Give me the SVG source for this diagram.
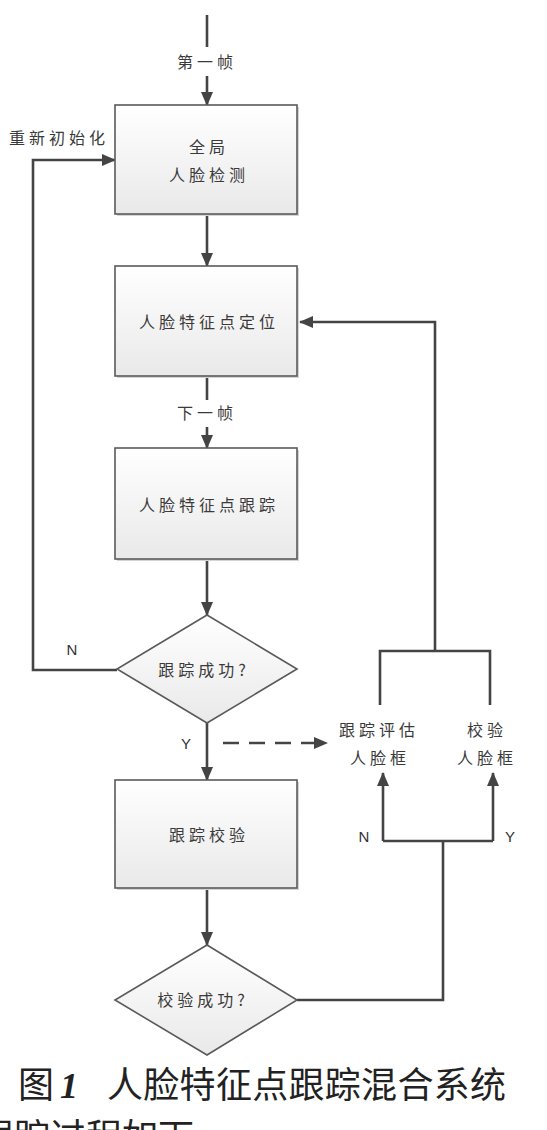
<svg xmlns="http://www.w3.org/2000/svg" width="547" height="1130" viewBox="0 0 547 1130">
<style>
.ln{fill:none;stroke:#444;stroke-width:2.6}
.dash{fill:none;stroke:#444;stroke-width:2.6;stroke-dasharray:16,10}
.box{fill:url(#g);stroke:#5a5a5a;stroke-width:1.6}
.sh{fill:#d4d4d4}
.t{font-family:"Noto Sans CJK SC","Noto Sans",sans-serif;font-size:16px;fill:#3a3a3a;letter-spacing:4px;text-anchor:middle}
.lc{font-family:"Noto Sans CJK SC","Noto Sans",sans-serif;font-size:16px;fill:#3a3a3a;letter-spacing:4px;text-anchor:middle}
.l{font-family:"Liberation Sans",Arial,sans-serif;font-size:15px;fill:#333;text-anchor:middle}
.cap{font-family:"Noto Sans CJK SC","Noto Sans",sans-serif;font-size:36px;fill:#222;font-weight:normal}
</style>
<defs>
<linearGradient id="g" x1="0" y1="0" x2="0" y2="1">
<stop offset="0" stop-color="#ffffff"/>
<stop offset="1" stop-color="#e9e9e9"/>
</linearGradient>
<marker id="a" markerWidth="14" markerHeight="12" refX="13" refY="6" orient="auto" markerUnits="userSpaceOnUse">
<path d="M0,0 L14,6 L0,12 Z" fill="#444"/>
</marker>
</defs>
<rect width="547" height="1130" fill="#ffffff"/>

<g id="connectors">
<path class="ln" d="M207,15 V47"/>
<path class="ln" d="M207,76 V105" marker-end="url(#a)"/>
<path class="ln" d="M207,214 V266" marker-end="url(#a)"/>
<path class="ln" d="M207,376 V400"/>
<path class="ln" d="M207,427 V448" marker-end="url(#a)"/>
<path class="ln" d="M207,559 V615" marker-end="url(#a)"/>
<path class="ln" d="M117,670 H33 V160 H115" marker-end="url(#a)"/>
<path class="ln" d="M207,723 V780" marker-end="url(#a)"/>
<path class="dash" d="M223,743 H327" marker-end="url(#a)"/>
<path class="ln" d="M207,888 V945" marker-end="url(#a)"/>
<path class="ln" d="M297,1000 H443 V841"/>
<path class="ln" d="M383,841 H493"/>
<path class="ln" d="M383,841 V773" marker-end="url(#a)"/>
<path class="ln" d="M493,841 V773" marker-end="url(#a)"/>
<path class="ln" d="M380,705 V651 H490 V705"/>
<path class="ln" d="M435,651 V322 H300" marker-end="url(#a)"/>
<text class="lc" x="207" y="68">第一帧</text>
<text class="lc" x="59" y="144">重新初始化</text>
<text class="lc" x="207" y="419">下一帧</text>
<text class="l" x="72" y="655">N</text>
<text class="l" x="186" y="749">Y</text>
<text class="l" x="364" y="842">N</text>
<text class="l" x="510" y="842">Y</text>
</g>

<g id="detect">
<rect class="sh" x="117" y="107" width="182" height="109"/>
<rect class="box" x="115" y="105" width="182" height="109"/>
<text class="t" x="209" y="153">全局</text>
<text class="t" x="209" y="181">人脸检测</text>
</g>

<g id="locate">
<rect class="sh" x="117" y="268" width="182" height="110"/>
<rect class="box" x="115" y="266" width="182" height="110"/>
<text class="t" x="209" y="328">人脸特征点定位</text>
</g>

<g id="track">
<rect class="sh" x="117" y="450" width="182" height="111"/>
<rect class="box" x="115" y="448" width="182" height="111"/>
<text class="t" x="209" y="511">人脸特征点跟踪</text>
</g>

<g id="decision1">
<path d="M207,615 L297,669 L207,723 L117,669 Z" class="box"/>
<text class="t" x="204" y="676">跟踪成功?</text>
</g>

<g id="verify">
<rect class="sh" x="117" y="782" width="182" height="108"/>
<rect class="box" x="115" y="780" width="182" height="108"/>
<text class="t" x="209" y="841">跟踪校验</text>
</g>

<g id="decision2">
<path d="M207,945 L297,1000 L207,1055 L115,1000 Z" class="box"/>
<text class="t" x="203" y="1006">校验成功?</text>
</g>

<g id="evalbox">
<text class="t" x="379" y="736">跟踪评估</text>
<text class="t" x="380" y="764">人脸框</text>
</g>

<g id="checkbox">
<text class="t" x="487" y="736">校验</text>
<text class="t" x="487" y="764">人脸框</text>
</g>

<g id="caption">
<text class="cap" x="18" y="1098">图</text>
<text x="60" y="1098" style="font-family:'Liberation Serif',serif;font-size:36px;font-style:italic;font-weight:bold;fill:#222">1</text>
<text class="cap" x="107" y="1098" style="letter-spacing:0.3px">人脸特征点跟踪混合系统</text>
<text class="cap" x="-22" y="1150">跟踪过程如下</text>
</g>
</svg>
